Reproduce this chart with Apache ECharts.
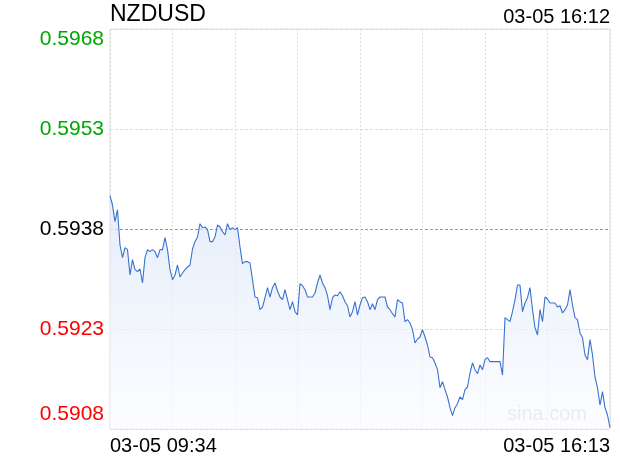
<!DOCTYPE html>
<html><head><meta charset="utf-8">
<script src="https://cdn.jsdelivr.net/npm/echarts@6/dist/echarts.min.js"></script>
<style>html,body{margin:0;padding:0;background:#fff}#c{width:620px;height:460px}</style>
</head><body><div id="c"></div>
<script>
const symbolName = 'NZDUSD';
const quoteTime = '03-05 16:12';
const xTickLabels = ['03-05 09:34', '03-05 16:13'];
const yTicks = [0.5908, 0.5923, 0.5938, 0.5953, 0.5968];
const prevClose = 0.5938;
const prices = [
0.59430,0.59416,0.59391,0.59409,0.59356,0.59337,0.59352,0.59349,0.59311,0.59334,
0.59319,0.59316,0.59320,0.59299,0.59337,0.59349,0.59346,0.59349,0.59346,0.59337,
0.59349,0.59349,0.59367,0.59349,0.59319,0.59304,0.59311,0.59326,0.59308,0.59314,
0.59319,0.59323,0.59326,0.59350,0.59361,0.59368,0.59388,0.59382,0.59383,0.59379,
0.59361,0.59361,0.59368,0.59386,0.59383,0.59376,0.59371,0.59388,0.59379,0.59382,
0.59379,0.59382,0.59353,0.59328,0.59331,0.59331,0.59329,0.59304,0.59278,0.59277,
0.59259,0.59263,0.59277,0.59292,0.59278,0.59292,0.59299,0.59287,0.59278,0.59274,
0.59289,0.59274,0.59259,0.59271,0.59256,0.59251,0.59298,0.59295,0.59289,0.59278,
0.59278,0.59278,0.59284,0.59299,0.59311,0.59299,0.59292,0.59280,0.59259,0.59277,
0.59281,0.59280,0.59286,0.59280,0.59271,0.59265,0.59248,0.59256,0.59271,0.59251,
0.59266,0.59277,0.59278,0.59271,0.59259,0.59268,0.59259,0.59274,0.59278,0.59278,
0.59278,0.59263,0.59259,0.59253,0.59248,0.59274,0.59271,0.59269,0.59241,0.59244,
0.59239,0.59229,0.59209,0.59215,0.59218,0.59229,0.59218,0.59206,0.59188,0.59187,
0.59179,0.59169,0.59142,0.59151,0.59139,0.59128,0.59112,0.59100,0.59112,0.59118,
0.59128,0.59124,0.59139,0.59143,0.59164,0.59179,0.59169,0.59163,0.59176,0.59169,
0.59184,0.59187,0.59181,0.59181,0.59181,0.59181,0.59181,0.59161,0.59247,0.59244,
0.59241,0.59256,0.59274,0.59296,0.59296,0.59256,0.59269,0.59277,0.59292,0.59259,
0.59232,0.59221,0.59259,0.59241,0.59278,0.59275,0.59269,0.59269,0.59269,0.59263,
0.59265,0.59254,0.59259,0.59266,0.59289,0.59266,0.59247,0.59244,0.59224,0.59217,
0.59191,0.59184,0.59214,0.59191,0.59158,0.59142,0.59116,0.59136,0.59112,0.59101,
0.59082
];
const slots = prices.map((_, i) => i);
const lastIdx = prices.length - 1;
const FONT = '"Liberation Sans", Arial, Helvetica, sans-serif';

const chart = echarts.init(document.getElementById('c'));
chart.setOption({
  animation: false,
  backgroundColor: '#fff',
  textStyle: { fontFamily: FONT },
  title: [
    { text: symbolName, left: 110, top: 3, padding: 0,
      textStyle: { fontSize: 23, fontWeight: 'normal', color: '#000', fontFamily: FONT } },
    { text: quoteTime, right: 10, top: 7, padding: 0,
      textStyle: { fontSize: 20, fontWeight: 'normal', color: '#000', fontFamily: FONT } }
  ],
  grid: { left: 110, right: 10, top: 29, bottom: 31, show: true, borderColor: '#dcdcdc', borderWidth: 1, containLabel: false },
  xAxis: {
    type: 'category', data: slots, boundaryGap: false,
    axisLine: { show: false }, axisTick: { show: false },
    splitLine: { show: true, interval: (i) => i % 25 === 0, lineStyle: { color: '#dcdcdc', type: [2, 2], width: 1 } },
    axisLabel: {
      show: true, interval: (i) => i === 0 || i === lastIdx,
      formatter: (v, i) => (Number(v) === 0 ? xTickLabels[0] : xTickLabels[1]),
      alignMinLabel: 'left', alignMaxLabel: 'right',
      fontSize: 20, color: '#000', margin: 7, fontFamily: FONT
    }
  },
  yAxis: {
    type: 'value', min: yTicks[0], max: yTicks[yTicks.length - 1], scale: true,
    axisLine: { show: false },
    axisTick: { show: false, customValues: yTicks },
    splitLine: { show: true, lineStyle: { color: ['#dcdcdc', '#dcdcdc', '#9a9a9a', '#dcdcdc', '#dcdcdc'], type: [3, 2], width: 1 } },
    axisLabel: {
      customValues: yTicks, margin: 6, fontSize: 21, fontFamily: FONT,
      formatter: (v) => {
        const s = Number(v).toFixed(4);
        const n = Number(v);
        if (Math.abs(n - yTicks[yTicks.length - 1]) < 1e-7) return '{tg|' + s + '}';
        if (Math.abs(n - yTicks[0]) < 1e-7) return '{br|' + s + '}';
        if (n > prevClose + 1e-7) return '{g|' + s + '}';
        if (n < prevClose - 1e-7) return '{r|' + s + '}';
        return '{k|' + s + '}';
      },
      rich: {
        tg: { color: '#00a800', fontSize: 21, fontFamily: FONT, padding: [20, 0, 0, 0] },
        g: { color: '#00a800', fontSize: 21, fontFamily: FONT },
        k: { color: '#000', fontSize: 21, fontFamily: FONT },
        r: { color: '#ff0000', fontSize: 21, fontFamily: FONT },
        br: { color: '#ff0000', fontSize: 21, fontFamily: FONT, padding: [0, 0, 30, 0] }
      }
    }
  },
  graphic: [
    { type: 'text', left: 507, top: 404, silent: true,
      style: { text: 'sina.com', font: '20px ' + FONT, fill: '#cacaca' } }
  ],
  series: [{
    type: 'line', data: prices, showSymbol: false, symbol: 'none',
    lineStyle: { color: '#3a72d0', width: 1.1 },
    itemStyle: { color: '#3a72d0' },
    areaStyle: {
      origin: 'start',
      color: new echarts.graphic.LinearGradient(0, 0, 0, 1, [
        { offset: 0, color: '#dbe6f8' }, { offset: 1, color: '#fbfcff' }
      ])
    }
  }]
});
</script>
</body></html>
